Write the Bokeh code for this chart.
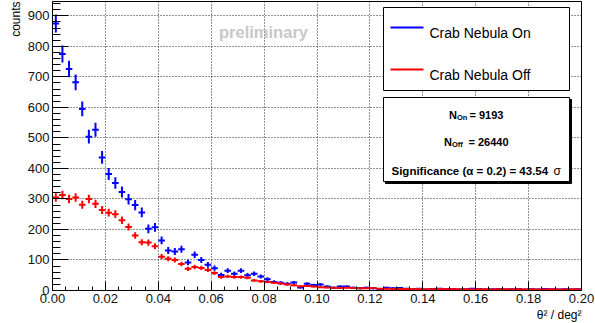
import math
from bokeh.plotting import figure
from bokeh.models import (Range1d, SingleIntervalTicker, PrintfTickFormatter, Label,
                          ColumnDataSource, Title)
from bokeh.embed import file_html
from bokeh.resources import INLINE

# ---------------- data ----------------
bin_width = 0.0025
n_bins = 80
theta2_centers = [bin_width * (i + 0.5) for i in range(n_bins)]

on_counts = [875, 775, 726, 682, 595, 504, 527, 436, 382, 352,
             323, 299, 280, 256, 202, 207, 164, 131, 128, 135,
             92, 117, 100, 84, 73, 51, 65, 55, 65, 50,
             55, 46, 37, 28, 25, 22, 26, 10, 22, 18,
             20, 13, 9, 13, 13, 9, 7, 9, 7, 5,
             9, 7, 8, 6, 4, 6, 3, 5, 6, 4,
             5, 3, 4, 6, 5, 3, 4, 5, 3, 4,
             5, 3, 4, 3, 5, 4, 3, 4, 3, 4]

off_counts = [305, 313, 300, 305, 281, 300, 284, 264, 255, 250,
              230, 208, 180, 158, 157, 145, 111, 104, 100, 87,
              71, 77, 74, 67, 57, 44, 46, 44, 44, 42,
              33, 30, 28, 25, 23, 20, 17, 14, 15, 13,
              11, 10, 9, 8, 9, 8, 7, 7, 8, 6,
              6, 5, 5, 5, 4, 5, 4, 4, 5, 4,
              4, 4, 4, 3, 4, 4, 3, 4, 4, 3,
              4, 3, 4, 3, 3, 4, 3, 3, 4, 3]

on_err = [math.sqrt(v) for v in on_counts]
off_err = [0.8 * math.sqrt(v) for v in off_counts]

series_labels = ["Crab Nebula On", "Crab Nebula Off"]
n_on_text = "9193"
n_off_text = "26440"
alpha_text = "0.2"
significance_text = "43.54"
x_title = "\u03b8\u00b2 / deg\u00b2"
y_title = "counts"

x_ticks_interval = 0.02
y_ticks_interval = 100

# ---------------- layout ----------------
W, H = 595, 323
FL, FR, FT, FB = 52, 581, 1, 290  # frame edges in canvas pixels
XMAX, YMAX = 0.2, 947.0
FONT = "Liberation Sans"


def X(px):
    return (px - FL) / (FR - FL) * XMAX


def Y(py):
    return (FB - py) * YMAX / (FB - FT)


p = figure(width=W, height=H, x_range=Range1d(0, XMAX), y_range=Range1d(0, YMAX),
           output_backend="svg", toolbar_location=None,
           min_border_left=FL, min_border_right=W - FR,
           min_border_top=FT, min_border_bottom=H - FB)
p.background_fill_color = "white"
p.border_fill_color = "white"
p.outline_line_color = "black"
p.outline_line_width = 1

for ax in (p.xaxis[0], p.yaxis[0]):
    ax.axis_line_color = "black"
    ax.major_tick_line_color = "black"
    ax.minor_tick_line_color = "black"
    ax.major_label_text_font = FONT
    ax.major_label_text_font_size = "13px"
    ax.major_label_text_color = "#111111"
    ax.major_tick_out = 0
    ax.minor_tick_out = 0

p.xaxis.ticker = SingleIntervalTicker(interval=x_ticks_interval, num_minor_ticks=4)
p.xaxis.formatter = PrintfTickFormatter(format="%.2f")
p.xaxis.major_tick_in = 9
p.xaxis.minor_tick_in = 4
p.xaxis.major_label_standoff = 3

p.yaxis.ticker = SingleIntervalTicker(interval=y_ticks_interval, num_minor_ticks=5)
p.yaxis.major_tick_in = 16
p.yaxis.minor_tick_in = 8
p.yaxis.major_label_standoff = 3

# axis titles (ROOT style: at the end of the axis)
p.add_layout(Title(text=x_title, align="right", text_font=FONT, text_font_size="12px",
                   text_font_style="normal", text_color="black", standoff=0), "below")
p.add_layout(Title(text=y_title, align="right", text_font=FONT, text_font_size="12px",
                   text_font_style="normal", text_color="black", standoff=4), "left")

for g in (p.xgrid[0], p.ygrid[0]):
    g.grid_line_color = "black"
    g.grid_line_dash = "1 2"
    g.grid_line_width = 1
    g.grid_line_alpha = 0.85

# ---------------- histograms with error bars ----------------
def draw_hist(counts, errs, color):
    src = ColumnDataSource(dict(
        x=theta2_centers,
        y=counts,
        lo=[c - e for c, e in zip(counts, errs)],
        hi=[c + e for c, e in zip(counts, errs)],
        xl=[x - bin_width / 2 for x in theta2_centers],
        xr=[x + bin_width / 2 for x in theta2_centers],
    ))
    p.segment(x0="x", y0="lo", x1="x", y1="hi", source=src, line_color=color, line_width=2)
    p.segment(x0="xl", y0="y", x1="xr", y1="y", source=src, line_color=color, line_width=2)


draw_hist(on_counts, on_err, "#0000ff")
draw_hist(off_counts, off_err, "#ff0000")

# ---------------- legend box ----------------
p.quad(left=[X(383)], right=[X(569)], top=[Y(7)], bottom=[Y(90)],
       fill_color="white", line_color="black", line_width=1)
p.segment(x0=[X(390)], x1=[X(423)], y0=[Y(27)], y1=[Y(27)], line_color="#0000ff", line_width=2)
p.segment(x0=[X(390)], x1=[X(423)], y0=[Y(69)], y1=[Y(69)], line_color="#ff0000", line_width=2)
p.add_layout(Label(x=X(429), y=Y(32), text=series_labels[0], text_font=FONT,
                   text_font_size="14px", text_baseline="middle", text_color="black"))
p.add_layout(Label(x=X(429), y=Y(74), text=series_labels[1], text_font=FONT,
                   text_font_size="14px", text_baseline="middle", text_color="black"))

# ---------------- stats box ----------------
p.quad(left=[X(385)], right=[X(571)], top=[Y(99)], bottom=[Y(183)],
       fill_color="black", line_color="black")
p.quad(left=[X(383)], right=[X(569)], top=[Y(97)], bottom=[Y(181)],
       fill_color="white", line_color="black", line_width=1)


def lab(px, py, text, size, bold=True, align="left", baseline="alphabetic", color="black"):
    p.add_layout(Label(x=X(px), y=Y(py), text=text, text_font=FONT,
                       text_font_size=f"{size}px",
                       text_font_style="bold" if bold else "normal",
                       text_align=align, text_baseline=baseline, text_color=color))


lab(448.5, 114, "N", 11)
lab(456.5, 116.5, "On", 7.5)
lab(469, 114, "= " + n_on_text, 11)
lab(443.5, 141, "N", 11)
lab(451.5, 143.5, "Off", 7.5)
lab(468, 141, "= " + n_off_text, 11)
lab(391, 170, "Significance (\u03b1 = " + alpha_text + ") = " + significance_text, 11.5)
lab(553, 170, "\u03c3", 12, bold=False)

# ---------------- watermark ----------------
lab(263, 31, "preliminary", 16.5, align="center", baseline="middle", color="#c8c8c8")

open("out.html", "w").write(file_html(p, INLINE))
